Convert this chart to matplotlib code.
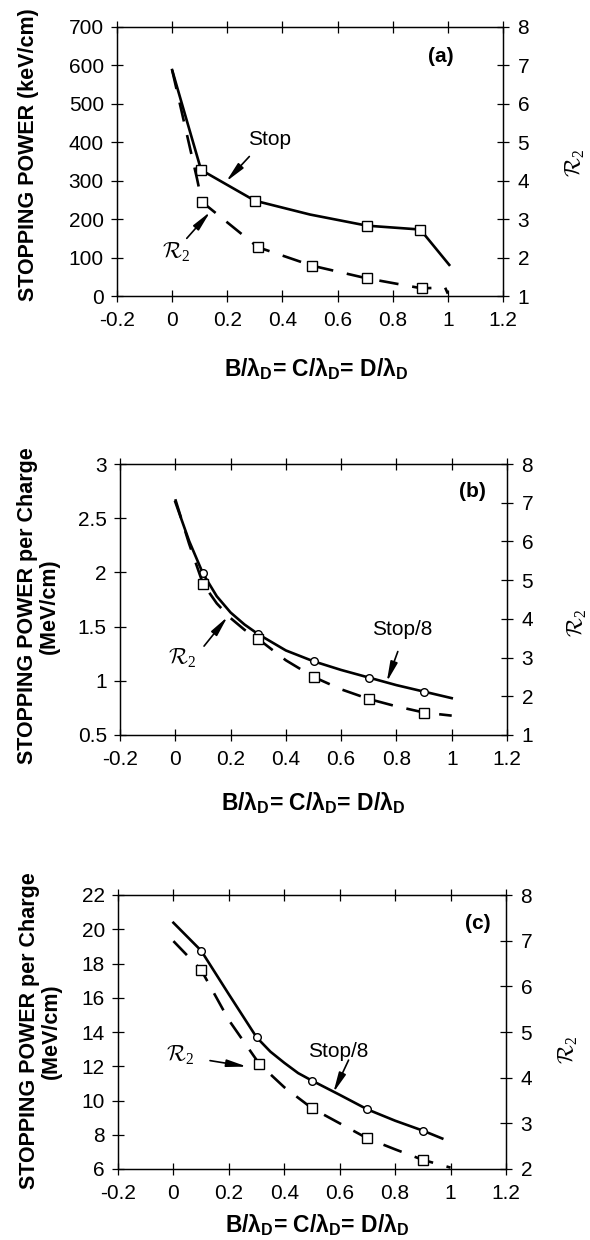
import matplotlib
matplotlib.use('Agg')
import matplotlib.pyplot as plt
from matplotlib.ticker import FuncFormatter, MultipleLocator

plt.rcParams['font.family'] = ['Liberation Sans', 'DejaVu Sans']
plt.rcParams['mathtext.fontset'] = 'custom'
plt.rcParams['mathtext.rm'] = 'Liberation Serif'
plt.rcParams['mathtext.bf'] = 'Liberation Sans:bold'
plt.rcParams['mathtext.cal'] = 'cmsy10'
plt.rcParams['lines.scale_dashes'] = False

# (a) stopping power and R2 vs B/lambda_D
a_stop_x = [0, 0.105, 0.3, 0.5, 0.707, 0.9, 1.005]
a_stop_y = [588, 328, 248, 212, 183, 173, 81]
a_stop_marks = [1, 2, 4, 5]
a_r2_x = [0, 0.09, 0.108, 0.311, 0.507, 0.706, 0.905, 0.99, 1.0]
a_r2_y = [6.88, 4.06, 3.45, 2.27, 1.79, 1.46, 1.20, 1.22, 1.06]
a_r2_marks = [2, 3, 4, 5, 6]

# (b) stopping power per charge
b_x = [0, 0.05, 0.1, 0.15, 0.2, 0.25, 0.3, 0.4, 0.5, 0.6, 0.7, 0.8, 0.9, 1.0]
b_stop = [2.65, 2.29, 1.99, 1.78, 1.63, 1.52, 1.43, 1.28, 1.18, 1.10, 1.03,
          0.96, 0.90, 0.84]
b_r2 = [7.09, 5.94, 4.91, 4.40, 4.02, 3.72, 3.48, 2.93, 2.50, 2.18, 1.93,
        1.74, 1.58, 1.50]
b_marks = [2, 6, 8, 10, 12]

# (c) stopping power per charge
c_stop_x = [0, 0.1, 0.2, 0.3, 0.35, 0.4, 0.45, 0.5, 0.6, 0.7, 0.8, 0.9, 0.97]
c_stop = [20.38, 18.75, 16.2, 13.69, 12.85, 12.2, 11.6, 11.16, 10.33, 9.48,
          8.82, 8.24, 7.78]
c_stop_marks = [1, 3, 7, 9, 11]
c_r2_x = [0, 0.1, 0.2, 0.31, 0.4, 0.5, 0.6, 0.7, 0.8, 0.9, 1.0]
c_r2 = [6.99, 6.36, 5.26, 4.30, 3.79, 3.33, 3.0, 2.67, 2.43, 2.20, 2.03]
c_r2_marks = [1, 3, 5, 7, 9]

W, H = 590, 1240
TICK = 15
LAB = 15.5

fig = plt.figure(figsize=(W / 100, H / 100), dpi=100)


def box(l, r, t, b):
    return [l / W, 1 - b / H, (r - l) / W, (b - t) / H]


def px(x, y):
    return x / W, 1 - y / H


fmt = FuncFormatter(lambda v, p: f'{round(v, 6) + 0.0:g}')
arrow = dict(arrowstyle='-|>,head_length=1.2,head_width=0.22', color='k',
             lw=1.2, shrinkA=0, shrinkB=0)


def setup(ax, ax2, ylim, ystep, rlim):
    ax.set_xlim(-0.2, 1.2)
    ax.set_ylim(*ylim)
    ax2.set_ylim(*rlim)
    ax.xaxis.set_major_locator(MultipleLocator(0.2))
    ax.yaxis.set_major_locator(MultipleLocator(ystep))
    ax2.yaxis.set_major_locator(MultipleLocator(1))
    for a in (ax, ax2):
        a.xaxis.set_major_formatter(fmt)
        a.yaxis.set_major_formatter(fmt)
        for s in a.spines.values():
            s.set_linewidth(0.9)
    ax.tick_params(axis='x', which='both', direction='inout', top=True,
                   length=9, width=0.9, labelsize=TICK, pad=6)
    ax.tick_params(axis='y', direction='inout', length=9, width=0.9,
                   labelsize=TICK, pad=5)
    ax2.tick_params(axis='y', direction='inout', length=9, width=0.9,
                    labelsize=TICK, pad=6)


def draw_stop(ax, x, y, marks, marker, ms):
    ax.plot(x, y, color='k', lw=1.9, marker=marker, ms=ms, mfc='white',
            mec='k', mew=1.0, markevery=marks)


def draw_r2(ax, x, y, marks):
    ax.plot(x, y, color='k', lw=1.9, dashes=(14, 10), marker='s', ms=7,
            mfc='white', mec='k', mew=1.0, markevery=marks)


xlab = r'B/λ$_\mathbf{D}$= C/λ$_\mathbf{D}$= D/λ$_\mathbf{D}$'
r2lab = r'$\mathcal{R}_2$'
NOTE = 15
R2S = 16
XL = 16.5

# ---- panel (a)
ax = fig.add_axes(box(117, 503, 27, 296))
ax2 = ax.twinx()
setup(ax, ax2, (0, 700), 100, (1, 8))
draw_stop(ax, a_stop_x, a_stop_y, a_stop_marks, 's', 7)
draw_r2(ax2, a_r2_x, a_r2_y, a_r2_marks)
ax.text(0.352, 406, 'Stop', fontsize=NOTE, ha='center', va='center')
ax.annotate('', xy=(0.196, 298), xytext=(0.28, 363), arrowprops=arrow)
ax.text(0.013, 115, r2lab, fontsize=R2S, ha='center', va='center')
ax.annotate('', xy=(0.138, 219), xytext=(0.053, 150), arrowprops=arrow)
ax.text(0.975, 623, '(a)', fontsize=NOTE, fontweight='bold', ha='center', va='center')
fig.text(*px(29, 155), 'STOPPING POWER (keV/cm)', rotation=90, fontsize=LAB,
         fontweight='bold', ha='center', va='center')
fig.text(*px(575, 163), r2lab, rotation=90, fontsize=R2S, ha='center', va='center')
fig.text(*px(316, 369), xlab, fontsize=XL, fontweight='bold', ha='center', va='center')

# ---- panel (b)
ax = fig.add_axes(box(120, 507, 464, 735))
ax2 = ax.twinx()
setup(ax, ax2, (0.5, 3), 0.5, (1, 8))
draw_stop(ax, b_x, b_stop, b_marks, 'o', 5.5)
draw_r2(ax2, b_x, b_r2, b_marks)
ax.text(0.82, 1.47, 'Stop/8', fontsize=NOTE, ha='center', va='center')
ax.annotate('', xy=(0.765, 0.99), xytext=(0.805, 1.27), arrowprops=arrow)
ax.text(0.023, 1.207, r2lab, fontsize=R2S, ha='center', va='center')
ax.annotate('', xy=(0.189, 1.59), xytext=(0.104, 1.32), arrowprops=arrow)
ax.text(1.075, 2.745, '(b)', fontsize=NOTE, fontweight='bold', ha='center', va='center')
fig.text(*px(38, 606), 'STOPPING POWER per Charge\n(MeV/cm)', rotation=90,
         fontsize=LAB, fontweight='bold', ha='center', va='center',
         multialignment='center', linespacing=1.05)
fig.text(*px(577, 623), r2lab, rotation=90, fontsize=R2S, ha='center', va='center')
fig.text(*px(313, 803), xlab, fontsize=XL, fontweight='bold', ha='center', va='center')

# ---- panel (c)
ax = fig.add_axes(box(118, 506, 895, 1169))
ax2 = ax.twinx()
setup(ax, ax2, (6, 22), 2, (2, 8))
draw_stop(ax, c_stop_x, c_stop, c_stop_marks, 'o', 5.5)
draw_r2(ax2, c_r2_x, c_r2, c_r2_marks)
ax.text(0.593, 12.85, 'Stop/8', fontsize=NOTE, ha='center', va='center')
ax.annotate('', xy=(0.577, 10.46), xytext=(0.632, 12.36), arrowprops=arrow)
ax.text(0.024, 12.66, r2lab, fontsize=R2S, ha='center', va='center')
ax.annotate('', xy=(0.265, 11.98), xytext=(0.132, 12.33), arrowprops=arrow)
ax.text(1.097, 20.35, '(c)', fontsize=NOTE, fontweight='bold', ha='center', va='center')
fig.text(*px(40, 1031), 'STOPPING POWER per Charge\n(MeV/cm)', rotation=90,
         fontsize=LAB, fontweight='bold', ha='center', va='center',
         multialignment='center', linespacing=1.05)
fig.text(*px(568, 1050), r2lab, rotation=90, fontsize=R2S, ha='center', va='center')
fig.text(*px(317, 1225), xlab, fontsize=XL, fontweight='bold', ha='center', va='center')

fig.savefig('out.png', dpi=100)
